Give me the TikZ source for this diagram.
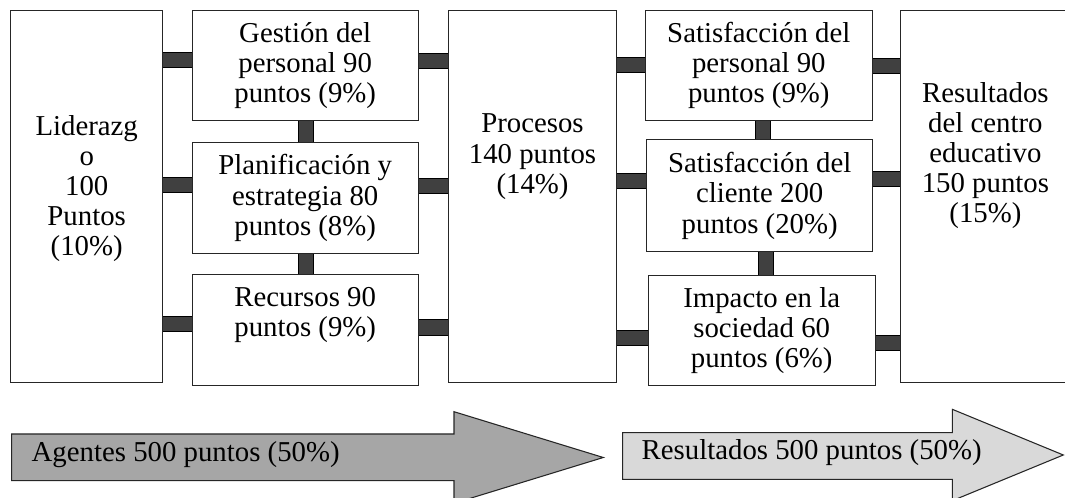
\documentclass[tikz,border=0pt]{standalone}
\usepackage{fontspec}
\setmainfont{Liberation Serif}
\usepackage{tikz}
\usetikzlibrary{positioning,backgrounds}

\definecolor{barfill}{HTML}{404040}
\definecolor{agentfill}{HTML}{A6A6A6}
\definecolor{resfill}{HTML}{D9D9D9}

\begin{document}
\begin{tikzpicture}[x=0.75pt, y=-0.75pt,
  every node/.style={font=\fontsize{21.6}{22.6}\selectfont, align=center, inner sep=0pt, outer sep=0pt},
  box/.style={draw=black!85, line width=0.8pt},
  bar/.style={draw=black, line width=0.8pt, double=barfill, double distance=10.6pt},
  agent/.style={draw=black!85, line width=0.8pt, fill=agentfill},
  result/.style={draw=black!85, line width=0.8pt, fill=resfill}]
\useasboundingbox (0,0) rectangle (1065,498);

\node[box, minimum width=114pt, minimum height=279pt] (lid) at (86.7,196.7) {};
\node[below=78.5pt of lid.north] (lidtxt) {Liderazg\\o\\100\\Puntos\\(10\%)};

\node[box, minimum width=169.7pt, minimum height=82.5pt] (gest) at (305.2,65.7) {Gestión del\\personal 90\\puntos (9\%)};
\node[box, minimum width=169.7pt, minimum height=83pt] (plan) at (305.2,198) {Planificación y\\estrategia 80\\puntos (8\%)};
\node[box, minimum width=169.7pt, minimum height=83pt] (recu) at (305.2,330.3) {};
\node[below=9.2pt of recu.north] (recutxt) {Recursos 90\\puntos (9\%)};

\node[box, minimum width=126.3pt, minimum height=279pt] (proc) at (532.5,196.7) {};
\node[below=77.5pt of proc.north] (proctxt) {Procesos\\140 puntos\\(14\%)};

\node[box, minimum width=170.2pt, minimum height=82.5pt] (satp) at (758.8,65.7) {Satisfacción del\\personal 90\\puntos (9\%)};
\node[box, minimum width=169.5pt, minimum height=83.8pt] (satc) at (759.7,195.8) {Satisfacción del\\cliente 200\\puntos (20\%)};
\node[box, minimum width=170pt, minimum height=82.7pt] (impa) at (761.7,330.6) {Impacto en la\\sociedad 60\\puntos (6\%)};

\node[box, minimum width=127pt, minimum height=279pt] (resu) at (985.4,196.7) {};
\node[below=53.5pt of resu.north] (resutxt) {Resultados\\del centro\\educativo\\150 puntos\\(15\%)};

\begin{scope}[on background layer]
\draw[bar] (lid.east |- 0,60) -- (gest.west |- 0,60);
\draw[bar] (lid.east |- 0,184.7) -- (plan.west |- 0,184.7);
\draw[bar] (lid.east |- 0,324) -- (recu.west |- 0,324);
\draw[bar] (gest.east |- 0,61) -- (proc.west |- 0,61);
\draw[bar] (plan.east |- 0,186) -- (proc.west |- 0,186);
\draw[bar] (recu.east |- 0,327.5) -- (proc.west |- 0,327.5);
\draw[bar] (proc.east |- 0,64.7) -- (satp.west |- 0,64.7);
\draw[bar] (proc.east |- 0,181.3) -- (satc.west |- 0,181.3);
\draw[bar] (proc.east |- 0,338) -- (impa.west |- 0,338);
\draw[bar] (satp.east |- 0,66) -- (resu.west |- 0,66);
\draw[bar] (satc.east |- 0,179) -- (resu.west |- 0,179);
\draw[bar] (impa.east |- 0,343) -- (resu.west |- 0,343);
\draw[bar] (gest.south -| 306.3,0) -- (plan.north -| 306.3,0);
\draw[bar] (plan.south -| 306.3,0) -- (recu.north -| 306.3,0);
\draw[bar] (satp.south -| 763,0) -- (satc.north -| 763,0);
\draw[bar] (satc.south -| 765.8,0) -- (impa.north -| 765.8,0);
\end{scope}

\draw[agent] (11.7,434) -- (454,434) -- (454,411.7) -- (603.3,457.5) -- (454,503.3) -- (454,480.7) -- (11.7,480.7) -- cycle;
\node[anchor=base west] (agt) at (31.7,461.7) {Agentes 500 puntos (50\%)};
\draw[result] (622.7,432.7) -- (952.3,432.7) -- (952.3,409.3) -- (1063.3,455) -- (952.3,500.7) -- (952.3,479.3) -- (622.7,479.3) -- cycle;
\node[anchor=base west] (res) at (641.7,460) {Resultados 500 puntos (50\%)};
\end{tikzpicture}
\end{document}
